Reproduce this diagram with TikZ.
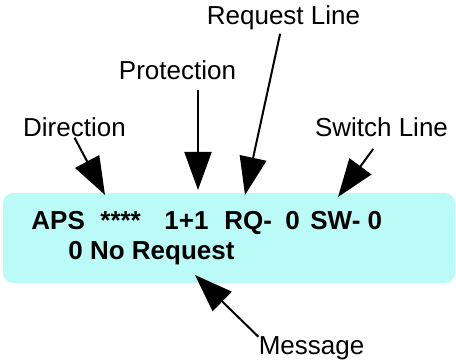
\documentclass[tikz,border=0pt]{standalone}
\usepackage{fontspec}
\setmainfont{Liberation Sans}
\usetikzlibrary{positioning,arrows.meta}
\definecolor{panel_cyan}{HTML}{BBFBF7}

\begin{document}
\begin{tikzpicture}[x=0.5pt, y=-0.5pt,
  lbl/.style={inner sep=0pt, anchor=base, font=\fontsize{13}{15}\selectfont},
  field/.style={inner sep=0pt, anchor=base west, font=\fontsize{13}{15}\selectfont\bfseries},
  pointer/.style={-{Triangle[length=19pt, width=13.5pt]}, line width=1pt}]
\useasboundingbox (0,0) rectangle (456,362);
% status panel
\node (Panel) [rectangle, rounded corners=5pt, fill=panel_cyan, minimum width=226pt, minimum height=45pt, inner sep=0pt] at (229,238) {};
\node (APS) [field] at (31,230) {APS};
\node (Stars) [field] at (100,230) {****};
\node (Prot) [field] at (164,230) {1+1};
\node (RQ) [field] at (224,230) {RQ-};
\node (RQVal) [field] at (285,230) {0};
\node (SW) [field] at (310,230) {SW- 0};
\node (Msg) [field] at (68,260) {0 No Request};
% tips on the panel
\coordinate (DirTip) at (105,195);
\coordinate (ProtTip) at (198,190);
\coordinate (ReqTip) at (245,195);
\coordinate (SwTip) at (338,197);
\coordinate (MsgTip) at (195,275);
% labels
\node (ReqLbl) [lbl] at (283.5,25) {Request Line};
\node (ProtLbl) [lbl] at (177.5,80) {Protection};
\node (DirLbl) [lbl] at (74.5,137) {Direction};
\node (SwLbl) [lbl] at (381.5,137) {Switch Line};
\node (MsgLbl) [lbl] at (311.5,355) {Message};
\draw [pointer] (DirLbl.south) -- (DirTip);
\draw [pointer, shorten <=4.5pt] (ProtLbl.south -| ProtTip) -- (ProtTip);
\draw [pointer, shorten <=1.5pt] (ReqLbl) -- (ReqTip);
\draw [pointer, shorten <=7pt] (SwLbl.south) -- (SwTip);
\draw [pointer] (MsgLbl.north west) -- (MsgTip);
\end{tikzpicture}
\end{document}
